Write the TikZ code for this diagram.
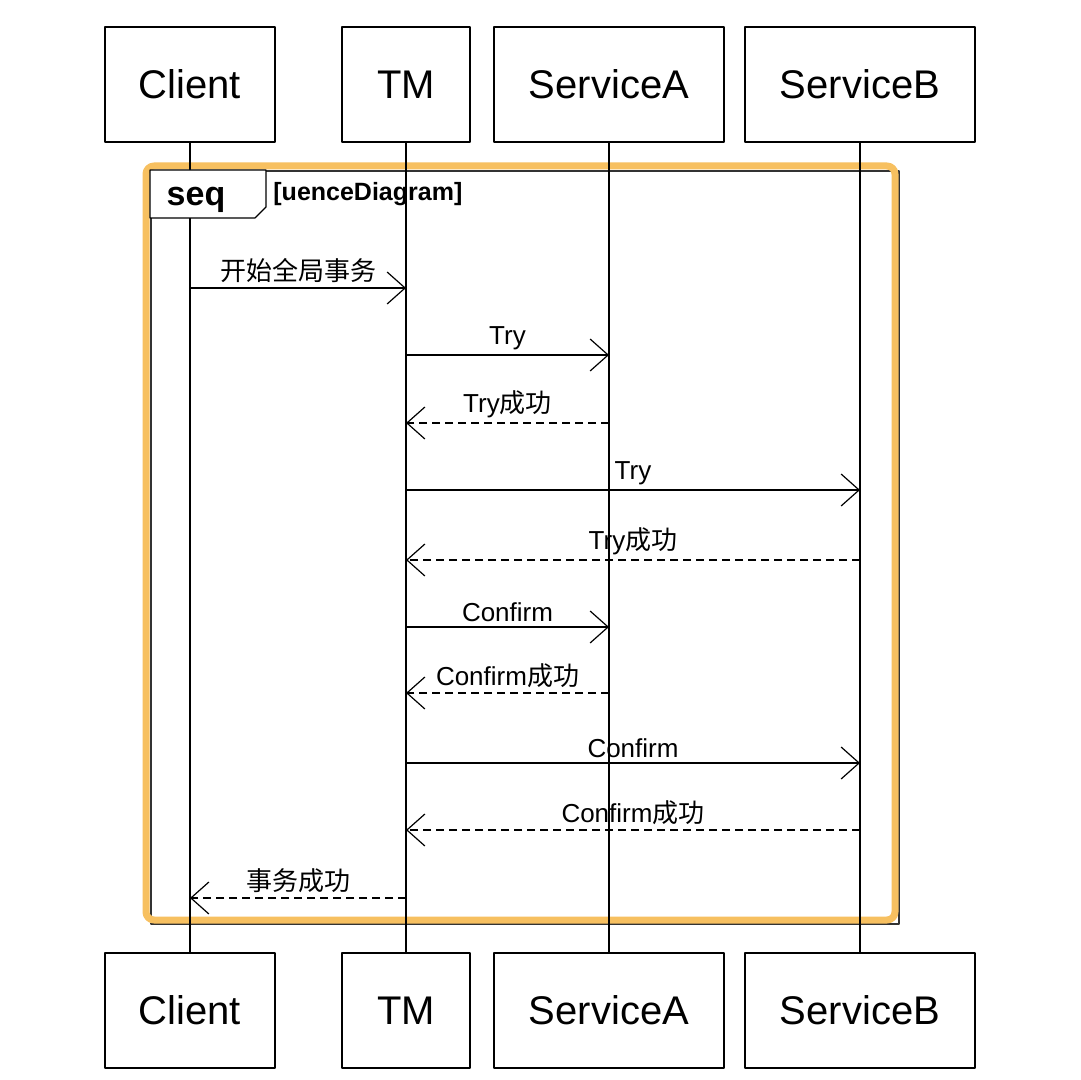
\documentclass[tikz,border=0pt]{standalone}
\usepackage{fontspec}
\setmainfont{Liberation Sans}
\newfontfamily\cjk{Noto Sans CJK SC}
\usetikzlibrary{arrows.meta}
\definecolor{selorange}{RGB}{247,192,96}
\newcommand{\zh}[1]{{\cjk #1}}

\begin{document}
\begin{tikzpicture}[x=0.5pt,y=-0.5pt,line join=bevel,
  actor/.style={draw,line width=0.6pt,fill=white,minimum height=57.5pt,inner sep=0pt,
    font=\fontsize{20}{24}\selectfont},
  lifeline/.style={line width=0.6pt},
  message/.style={line width=0.6pt,-{Straight Barb[length=9pt,width=16pt,line width=0.6pt]}},
  reply/.style={message,dash pattern=on 4pt off 2.5pt},
  msglabel/.style={above,inner sep=2.5pt,font=\fontsize{13}{15}\selectfont},
]
\useasboundingbox[fill=white] (0,0) rectangle (1080,1080);
%%
% frame
\draw[black!80,line width=1.2pt] (151,171) rectangle (899,924);
\draw[selorange,line width=3.5pt,rounded corners=4pt] (146,166) rectangle (895,920);
\node (frame_name) at (273,194) [anchor=west,inner sep=0pt,font=\fontsize{12.5}{15}\selectfont\bfseries] {[uenceDiagram]};
%
\node (client_top) at (190,84.5) [actor,minimum width=85pt] {Client};
\node (tm_top) at (406,84.5) [actor,minimum width=64pt] {TM};
\node (sa_top) at (609,84.5) [actor,minimum width=115pt] {ServiceA};
\node (sb_top) at (860,84.5) [actor,minimum width=115pt] {ServiceB};
\node (client_bot) at (190,1010.5) [actor,minimum width=85pt] {Client};
\node (tm_bot) at (406,1010.5) [actor,minimum width=64pt] {TM};
\node (sa_bot) at (609,1010.5) [actor,minimum width=115pt] {ServiceA};
\node (sb_bot) at (860,1010.5) [actor,minimum width=115pt] {ServiceB};
\draw [lifeline] (client_top) -- (client_bot);
\draw [lifeline] (tm_top) -- (tm_bot);
\draw [lifeline] (sa_top) -- (sa_bot);
\draw [lifeline] (sb_top) -- (sb_bot);
%
\draw[fill=white,line width=0.6pt] (150,170) -- (266,170) -- (266,207) -- (255,218) -- (150,218) -- cycle;
\node (frame_tab) at (196,200) [inner sep=0pt,font=\fontsize{17}{20}\selectfont\bfseries] {seq};
%
\coordinate (client_1) at (190,288);     \coordinate (tm_1) at (406,288);
\coordinate (tm_2) at (406,355);         \coordinate (sa_2) at (609,355);
\coordinate (sa_3) at (609,423);         \coordinate (tm_3) at (406,423);
\coordinate (tm_4) at (406,490);         \coordinate (sb_4) at (860,490);
\coordinate (sb_5) at (860,560);         \coordinate (tm_5) at (406,560);
\coordinate (tm_6) at (406,627);         \coordinate (sa_6) at (609,627);
\coordinate (sa_7) at (609,693);         \coordinate (tm_7) at (406,693);
\coordinate (tm_8) at (406,763);         \coordinate (sb_8) at (860,763);
\coordinate (sb_9) at (860,830);         \coordinate (tm_9) at (406,830);
\coordinate (tm_10) at (406,898);        \coordinate (client_10) at (190,898);
\draw [message] (client_1) -- node[msglabel] (msg_1) {\zh{开始全局事务}} (tm_1);
\draw [message] (tm_2) -- node[msglabel] (msg_2) {Try} (sa_2);
\draw [reply] (sa_3) -- node[msglabel] (msg_3) {Try\zh{成功}} (tm_3);
\draw [message] (tm_4) -- node[msglabel] (msg_4) {Try} (sb_4);
\draw [reply] (sb_5) -- node[msglabel] (msg_5) {Try\zh{成功}} (tm_5);
\draw [message] (tm_6) -- node[msglabel] (msg_6) {Confirm} (sa_6);
\draw [reply] (sa_7) -- node[msglabel] (msg_7) {Confirm\zh{成功}} (tm_7);
\draw [message] (tm_8) -- node[msglabel] (msg_8) {Confirm} (sb_8);
\draw [reply] (sb_9) -- node[msglabel] (msg_9) {Confirm\zh{成功}} (tm_9);
\draw [reply] (tm_10) -- node[msglabel] (msg_10) {\zh{事务成功}} (client_10);
%
\end{tikzpicture}
\end{document}
